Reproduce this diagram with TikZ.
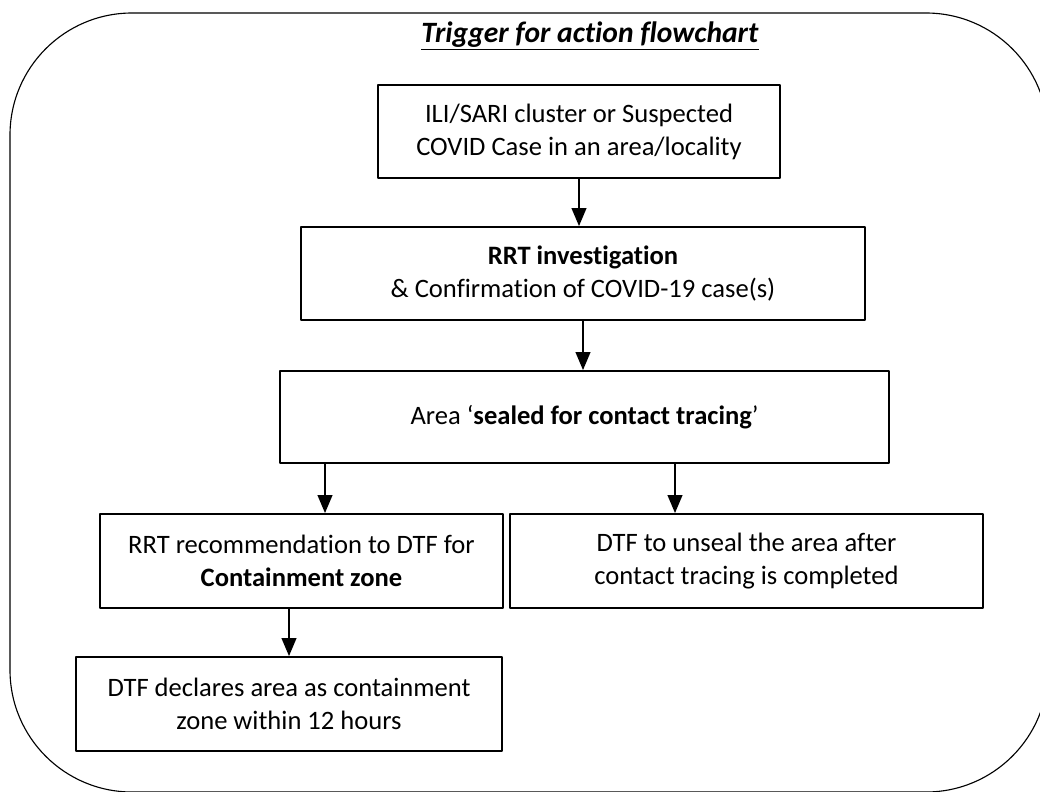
\documentclass[tikz,border=0pt]{standalone}
\usepackage{fontspec}
\setmainfont{Carlito}[Ligatures=NoCommon]
\usetikzlibrary{arrows}

\tikzset{
  stepbox/.style={draw,line width=1.4pt,align=center,inner sep=2pt,
    font=\fontsize{18.9}{23.5}\selectfont},
  flow/.style={->,line width=2pt}
}

\begin{document}
\begin{tikzpicture}[line cap=round,line join=round,>=triangle 45,x=0.025cm,y=-0.025cm]
\useasboundingbox (0,0) rectangle (1040,791);
\clip (0,0) rectangle (1040,791);
\draw [line width=0.8pt,rounded corners=3.05cm] (10,13) rectangle (1048,792);
\node (title) at (590,36) {\fontsize{21}{24}\selectfont\underline{\textbf{\textit{Trigger for action flowchart}}}};
\node [stepbox,minimum width=10.05cm,minimum height=2.325cm] (case) at (579,131.5) {ILI/SARI cluster or Suspected\\COVID Case in an area/locality};
\node [stepbox,minimum width=14.1cm,minimum height=2.325cm] (inv) at (583,273.5) {\textbf{RRT investigation}\\\& Confirmation of COVID-19 case(s)};
\node [stepbox,minimum width=15.225cm,minimum height=2.3cm] (seal) at (584.5,417) {Area `\textbf{sealed for contact tracing}'};
\node [stepbox,minimum width=10.075cm,minimum height=2.35cm] (rec) at (301.5,561) {RRT recommendation to DTF for\\\textbf{Containment zone}};
\node [stepbox,minimum width=11.825cm,minimum height=2.35cm] (unseal) at (746.5,561) {DTF to unseal the area after\\contact tracing is completed};
\node [stepbox,minimum width=10.65cm,minimum height=2.35cm] (decl) at (289,704) {DTF declares area as containment\\zone within 12 hours};
\coordinate (lft) at (325,0);
\coordinate (rgt) at (675,0);
\draw [flow] (case.south) -- (case.south |- inv.north);
\draw [flow] (inv.south) -- (inv.south |- seal.north);
\draw [flow] (seal.south -| lft) -- (rec.north -| lft);
\draw [flow] (seal.south -| rgt) -- (unseal.north -| rgt);
\draw [flow] (rec.south -| decl.north) -- (decl.north);
\end{tikzpicture}
\end{document}
